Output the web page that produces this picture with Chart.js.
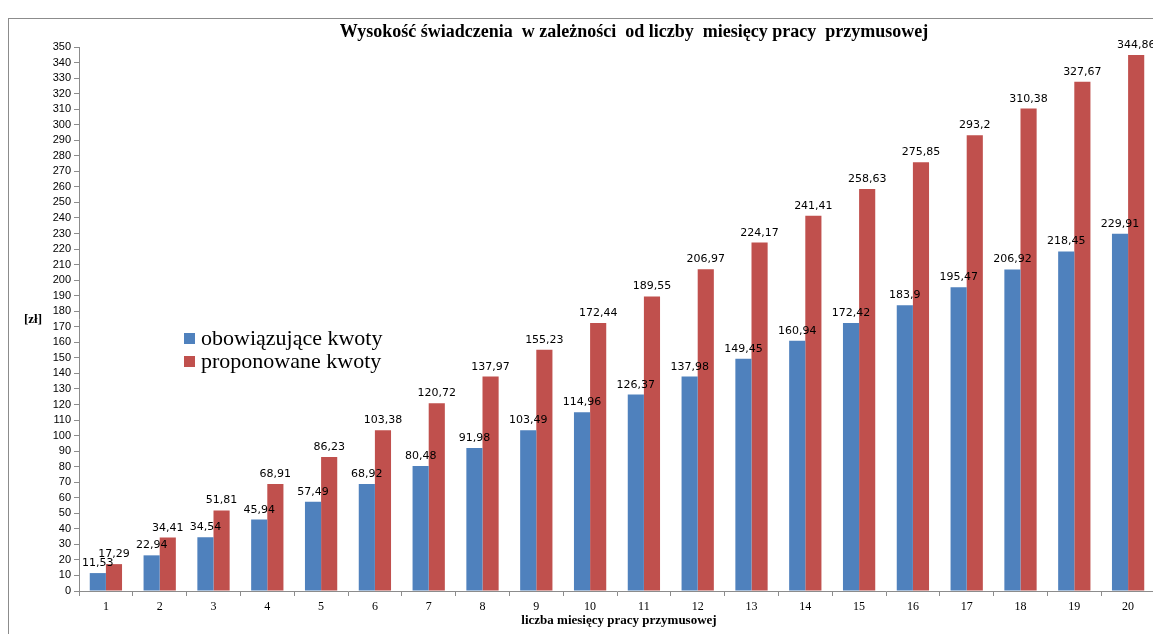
<!DOCTYPE html>
<html>
<head>
<meta charset="utf-8">
<script src="https://cdn.jsdelivr.net/npm/chart.js@4.4.0/dist/chart.umd.min.js"></script>
<style>
  html, body { margin: 0; padding: 0; background: #fff; overflow: hidden; width: 1153px; height: 634px; }
  #frame { position: absolute; left: 8px; top: 18px; width: 1250px; height: 640px;
           border-left: 1px solid #8c8c8c; border-top: 1px solid #8c8c8c; }
  #chartBox { position: absolute; left: 0; top: 0; width: 1250px; height: 640px; }
  .legend { position: absolute; left: 175px; top: 307px; font-family: "Liberation Serif", serif; font-size: 22px; color: #000; }
  .legend div { height: 23px; line-height: 23px; white-space: nowrap; }
  .legend span { display: inline-block; width: 11px; height: 11px; margin-right: 6px; vertical-align: 1px; }
</style>
</head>
<body>
<div id="frame">
  <div id="chartBox"><canvas id="myChart"></canvas></div>
  <div class="legend">
    <div><span style="background:#4F81BD"></span>obowiązujące kwoty</div>
    <div><span style="background:#C0504D"></span>proponowane kwoty</div>
  </div>
</div>
<script>
const months = ["1","2","3","4","5","6","7","8","9","10","11","12","13","14","15","16","17","18","19","20"];
const obowiazujace = [11.53, 22.94, 34.54, 45.94, 57.49, 68.92, 80.48, 91.98, 103.49, 114.96,
                      126.37, 137.98, 149.45, 160.94, 172.42, 183.9, 195.47, 206.92, 218.45, 229.91];
const proponowane = [17.29, 34.41, 51.81, 68.91, 86.23, 103.38, 120.72, 137.97, 155.23, 172.44,
                     189.55, 206.97, 224.17, 241.41, 258.63, 275.85, 293.2, 310.38, 327.67, 344.86];
const seriesNames = ["obowiązujące kwoty", "proponowane kwoty"];
const chartTitle = "Wysokość świadczenia  w zależności  od liczby  miesięcy pracy  przymusowej";
const xTitle = "liczba miesięcy pracy przymusowej";
const yTitle = "[zł]";

// labels above bars + titles
const extraText = {
    id: "extraText",
    afterDatasetsDraw(chart) {
        const ctx = chart.ctx;
        ctx.save();
        ctx.fillStyle = "#000";
        ctx.font = "11px 'DejaVu Sans'";
        ctx.textAlign = "center";
        ctx.textBaseline = "alphabetic";
        chart.data.datasets.forEach((ds, i) => {
            chart.getDatasetMeta(i).data.forEach((bar, j) => {
                ctx.fillText(String(ds.data[j]).replace(".", ","), bar.x, bar.y - 7);
            });
        });
        ctx.font = "bold 18px 'Liberation Serif'";
        ctx.fillText(chartTitle, 625, 18);
        ctx.font = "bold 13px 'Liberation Serif'";
        ctx.fillText(xTitle, 610, 605);
        ctx.fillText(yTitle, 24, 304);
        ctx.restore();
    }
};

const ctx = document.getElementById("myChart");
new Chart(ctx, {
    type: "bar",
    data: {
        labels: months,
        datasets: [
            { label: seriesNames[0], data: obowiazujace, backgroundColor: "#4F81BD" },
            { label: seriesNames[1], data: proponowane, backgroundColor: "#C0504D" }
        ]
    },
    options: {
        responsive: true,
        maintainAspectRatio: false,
        animation: false,
        datasets: { bar: { categoryPercentage: 0.6, barPercentage: 1.0 } },
        layout: { padding: { left: 0, top: 28, right: 104, bottom: 0 } },
        plugins: { legend: { display: false }, title: { display: false }, tooltip: { enabled: false } },
        scales: {
            x: {
                grid: { display: true, offset: true, drawOnChartArea: false, tickLength: 5, color: "#8c8c8c" },
                border: { display: true, color: "#8c8c8c" },
                ticks: { color: "#000", font: { family: "Liberation Serif", size: 12 }, padding: 4 },
                afterFit(s) { s.height = 68; }
            },
            y: {
                min: 0, max: 350,
                grid: { display: true, drawOnChartArea: false, tickLength: 5, color: "#8c8c8c" },
                border: { display: true, color: "#8c8c8c" },
                ticks: { stepSize: 10, autoSkip: false, color: "#000", font: { family: "Liberation Sans", size: 11 }, padding: 3 },
                afterFit(s) { s.width = 70; }
            }
        }
    },
    plugins: [extraText]
});
</script>
</body>
</html>
